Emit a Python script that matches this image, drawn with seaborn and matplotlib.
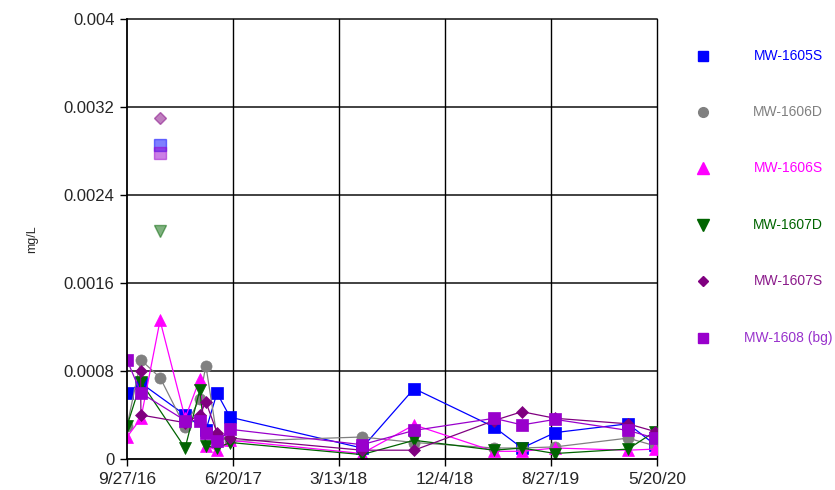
import numpy as np
import pandas as pd
import matplotlib
matplotlib.use("Agg")
import matplotlib.pyplot as plt
import seaborn as sns

# sample dates (one extra 10/31/16 entry used only by MW-1607S)
dates = ["2016-09-27", "2016-10-31", "2016-11-01", "2016-12-19", "2017-02-20",
         "2017-03-29", "2017-04-13", "2017-05-11", "2017-06-13", "2018-05-10",
         "2018-09-18", "2019-04-07", "2019-06-16", "2019-09-07", "2020-03-08",
         "2020-05-15"]
nan = np.nan

mw_1605s = [0.0006, nan, 0.00069, nan, 0.0004, nan, 0.00026, 0.0006, 0.00038, 0.0001,
            0.00064, 0.00029, 0.0001, 0.00024, 0.00032, 0.00013]
mw_1606d = [0.0003, nan, 0.0009, 0.00074, 0.00029, 0.00055, 0.00085, 0.0002, 0.00016, 0.0002,
            0.00015, 0.0001, 0.0001, 0.00011, 0.00019, 0.00012]
mw_1606s = [0.0002, nan, 0.00037, 0.00126, 0.00037, 0.00073, 0.00012, 0.00008, 0.00017, 0.00005,
            0.00031, 0.00007, 0.00007, 0.0001, 0.00008, 0.00009]
mw_1607d = [0.0003, nan, 0.0007, nan, 0.0001, 0.00063, 0.00012, 0.0001, 0.00015, 0.00004,
            0.00017, 0.00008, 0.0001, 0.00005, 0.00009, 0.00025]
mw_1607s = [nan, 0.0008, 0.0004, nan, 0.00033, 0.0004, 0.00052, 0.00024, 0.00019, 0.00008,
            0.00008, 0.00035, 0.00043, 0.00037, 0.00032, 0.00025]
mw_1608 = [0.0009, nan, 0.0006, nan, 0.00035, 0.00035, 0.00024, 0.00016, 0.00027, 0.00013,
           0.00026, 0.00037, 0.00031, 0.00036, 0.00026, 0.00019]

series_names = ["MW-1605S", "MW-1606D", "MW-1606S", "MW-1607D", "MW-1607S", "MW-1608 (bg)"]
series_values = [mw_1605s, mw_1606d, mw_1606s, mw_1607d, mw_1607s, mw_1608]
colors = ["#0000FF", "#808080", "#FF00FF", "#006400", "#800080", "#9900CC"]
text_colors = ["#0000FF", "#808080", "#FF00FF", "#006400", "#8B1A8B", "#9933CC"]
markers = ["s", "o", "^", "v", "D", "s"]
msizes = [8, 8, 9, 9, 6, 8]

# faded (flagged) results on 12/19/16
faded_date = "2016-12-19"
faded_series = ["MW-1605S", "MW-1607D", "MW-1607S", "MW-1608 (bg)"]
faded_values = [0.00285, 0.00207, 0.0031, 0.00278]

xtick_dates = ["2016-09-27", "2017-06-20", "2018-03-13", "2018-12-04", "2019-08-27", "2020-05-20"]
xtick_labels = ["9/27/16", "6/20/17", "3/13/18", "12/4/18", "8/27/19", "5/20/20"]
yticks = [0, 0.0008, 0.0016, 0.0024, 0.0032, 0.004]
ytick_labels = ["0", "0.0008", "0.0016", "0.0024", "0.0032", "0.004"]

sns.set_style("white")
plt.rcParams["font.family"] = ["Liberation Sans", "DejaVu Sans"]

fig = plt.figure(figsize=(8.35, 4.9), dpi=100)
ax = fig.add_axes([127 / 835, 31 / 490, 530 / 835, 440 / 490])

x_all = pd.to_datetime(dates)
for name, vals, c, m, ms in zip(series_names, series_values, colors, markers, msizes):
    df = pd.DataFrame({"date": x_all, "value": vals}).dropna()
    sns.lineplot(data=df, x="date", y="value", ax=ax, color=c, marker=m, markersize=ms,
                 markeredgecolor=c, markeredgewidth=0.5, linewidth=0.9,
                 estimator=None, sort=True, zorder=3)

for name, v in zip(faded_series, faded_values):
    i = series_names.index(name)
    ax.plot(pd.to_datetime([faded_date]), [v], linestyle="none", marker=markers[i],
            markersize=msizes[i], color=colors[i], markeredgecolor=colors[i],
            alpha=0.5, zorder=3)

ax.set_xlim(pd.Timestamp(xtick_dates[0]), pd.Timestamp(xtick_dates[-1]))
ax.set_ylim(0, 0.004)
ax.set_xticks(pd.to_datetime(xtick_dates))
ax.set_xticklabels(xtick_labels, fontsize=12.5)
ax.set_yticks(yticks)
ax.set_yticklabels(ytick_labels, fontsize=12)
ax.set_xlabel("")
ax.set_ylabel("mg/L", fontsize=9, labelpad=18)
ax.tick_params(axis="both", direction="out", length=5, width=1, color="black",
               left=True, bottom=True, pad=4)

ax.grid(False)
for yv in yticks[1:]:
    ax.axhline(yv, color="#333333", linewidth=1.3, zorder=1, clip_on=False)
for xd in xtick_dates[1:]:
    ax.axvline(pd.Timestamp(xd), color="black", linewidth=1.0, zorder=1, clip_on=False)
for s in ["top", "right"]:
    ax.spines[s].set_visible(False)
for s in ["left", "bottom"]:
    ax.spines[s].set_color("black")
    ax.spines[s].set_linewidth(1.3)
    ax.spines[s].set_zorder(4)

# legend on the right, one entry per row
lg = fig.add_axes([0, 0, 1, 1], facecolor="none")
lg.set_xlim(0, 835)
lg.set_ylim(490, 0)
lg.axis("off")
row_y = [56, 112, 168, 225, 281, 338]
for name, c, tc, m, ms, yy in zip(series_names, colors, text_colors, markers, msizes, row_y):
    lg.plot([703], [yy], marker=m, markersize=ms - 1, color=c, markeredgecolor=c, linestyle="none")
    lg.text(788, yy, name, color=tc, fontsize=10, ha="center", va="center")

fig.savefig("out.png", dpi=100)
